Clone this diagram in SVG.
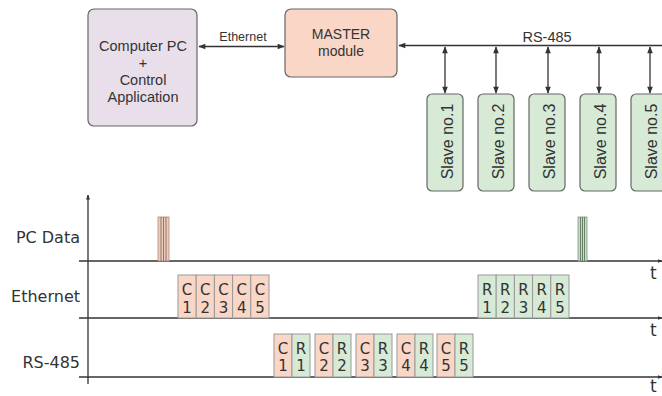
<svg xmlns="http://www.w3.org/2000/svg" width="662" height="396" viewBox="0 0 662 396">
<defs>
<marker id="ah" viewBox="0 0 10 10" refX="9" refY="5" markerWidth="8" markerHeight="7" orient="auto-start-reverse" markerUnits="userSpaceOnUse"><path d="M0,1 L10,5 L0,9 Z" fill="#333"/></marker>
<marker id="ta" viewBox="0 0 10 10" refX="9" refY="5" markerWidth="5" markerHeight="5" orient="auto" markerUnits="userSpaceOnUse"><path d="M0,1 L10,5 L0,9 Z" fill="#333"/></marker>
</defs>
<style>
.box{stroke:#666;stroke-width:1.2}
.pc{fill:#e8dfeb}
.ms{fill:#f9d6c6}
.sl{fill:#d6ead6}
.tl{font-family:"Liberation Sans",Arial,sans-serif;fill:#333;text-anchor:middle}
.sv{font-family:"Liberation Sans",Arial,sans-serif;fill:#333;text-anchor:middle;font-size:16px}
.ax{stroke:#333;stroke-width:1.3;fill:none}
.ln{stroke:#333;stroke-width:1.3;fill:none}
.lab{font-family:"DejaVu Sans",Verdana,sans-serif;font-size:16px;fill:#333;text-anchor:end}
.c{fill:#f9d6c6;stroke:#999;stroke-width:1}
.r{fill:#d6ead6;stroke:#999;stroke-width:1}
.bt{font-family:"DejaVu Sans",Verdana,sans-serif;font-size:15px;fill:#333;text-anchor:middle}
.t{font-family:"DejaVu Sans",Verdana,sans-serif;font-size:17px;fill:#333}
</style>
<g id="connectors">
<line class="ln" x1="199" y1="46.5" x2="284" y2="46.5" marker-start="url(#ah)" marker-end="url(#ah)"/>
<text class="tl" x="243" y="41" font-size="12.5">Ethernet</text>
<line class="ln" x1="399" y1="45.5" x2="662" y2="45.5" marker-start="url(#ah)"/>
<text class="tl" x="547" y="41.5" font-size="14.5">RS-485</text>
<line class="ln" x1="445" y1="47" x2="445" y2="93" marker-start="url(#ah)" marker-end="url(#ah)"/>
<line class="ln" x1="496" y1="47" x2="496" y2="93" marker-start="url(#ah)" marker-end="url(#ah)"/>
<line class="ln" x1="548" y1="47" x2="548" y2="93" marker-start="url(#ah)" marker-end="url(#ah)"/>
<line class="ln" x1="599" y1="47" x2="599" y2="93" marker-start="url(#ah)" marker-end="url(#ah)"/>
<line class="ln" x1="650" y1="47" x2="650" y2="93" marker-start="url(#ah)" marker-end="url(#ah)"/>
</g>
<g id="pc">
<rect class="box pc" x="88" y="9" width="109" height="117" rx="6"/>
<text class="tl" font-size="14.5"><tspan x="143" y="51">Computer PC</tspan><tspan x="143" y="68">+</tspan><tspan x="143" y="85">Control</tspan><tspan x="143" y="102">Application</tspan></text>
</g>
<g id="master">
<rect class="box ms" x="285" y="9" width="112" height="68" rx="6"/>
<text class="tl" font-size="14"><tspan x="341" y="39">MASTER</tspan><tspan x="341" y="56">module</tspan></text>
</g>
<g id="slave1"><rect class="box sl" x="427" y="94" width="36" height="97" rx="5"/><text class="sv" transform="translate(452.5,141.5) rotate(-90)">Slave no.1</text></g>
<g id="slave2"><rect class="box sl" x="478" y="94" width="36" height="97" rx="5"/><text class="sv" transform="translate(503.5,141.5) rotate(-90)">Slave no.2</text></g>
<g id="slave3"><rect class="box sl" x="529" y="94" width="36" height="97" rx="5"/><text class="sv" transform="translate(554.5,141.5) rotate(-90)">Slave no.3</text></g>
<g id="slave4"><rect class="box sl" x="580" y="94" width="36" height="97" rx="5"/><text class="sv" transform="translate(605.5,141.5) rotate(-90)">Slave no.4</text></g>
<g id="slave5"><rect class="box sl" x="631" y="94" width="36" height="97" rx="5"/><text class="sv" transform="translate(656.5,141.5) rotate(-90)">Slave no.5</text></g>
<g id="timing">
<line class="ax" x1="88" y1="384" x2="88" y2="195" marker-end="url(#ta)"/>
<line class="ax" x1="79" y1="261" x2="662" y2="261" marker-end="url(#ta)"/>
<line class="ax" x1="79" y1="318" x2="662" y2="318" marker-end="url(#ta)"/>
<line class="ax" x1="79" y1="377" x2="662" y2="377" marker-end="url(#ta)"/>
<text class="t" x="650" y="279">t</text>
<text class="t" x="650" y="336">t</text>
<text class="t" x="650" y="392">t</text>
<text class="lab" x="80" y="243">PC Data</text>
<text class="lab" x="80" y="302">Ethernet</text>
<text class="lab" x="80" y="368">RS-485</text>
<g id="pulse1">
<rect x="158" y="217" width="11" height="44" fill="#ecccbd" stroke="#b08878" stroke-width="0.8"/>
<line x1="161" y1="217" x2="161" y2="261" stroke="#8a6a5a" stroke-width="0.9"/>
<line x1="163.5" y1="217" x2="163.5" y2="261" stroke="#8a6a5a" stroke-width="0.9"/>
<line x1="166" y1="217" x2="166" y2="261" stroke="#8a6a5a" stroke-width="0.9"/>
</g>
<g id="pulse2">
<rect x="578" y="217" width="9" height="44" fill="#c9dcc9" stroke="#7d957d" stroke-width="0.8"/>
<line x1="580.5" y1="217" x2="580.5" y2="261" stroke="#5e745e" stroke-width="0.9"/>
<line x1="582.5" y1="217" x2="582.5" y2="261" stroke="#5e745e" stroke-width="0.9"/>
<line x1="584.5" y1="217" x2="584.5" y2="261" stroke="#5e745e" stroke-width="0.9"/>
</g>
<g id="eth-c">
<rect class="c" x="178" y="275" width="18.2" height="43"/><text class="bt"><tspan x="187.1" y="295">C</tspan><tspan x="187.1" y="312.5">1</tspan></text>
<rect class="c" x="196.2" y="275" width="18.2" height="43"/><text class="bt"><tspan x="205.3" y="295">C</tspan><tspan x="205.3" y="312.5">2</tspan></text>
<rect class="c" x="214.4" y="275" width="18.2" height="43"/><text class="bt"><tspan x="223.5" y="295">C</tspan><tspan x="223.5" y="312.5">3</tspan></text>
<rect class="c" x="232.6" y="275" width="18.2" height="43"/><text class="bt"><tspan x="241.7" y="295">C</tspan><tspan x="241.7" y="312.5">4</tspan></text>
<rect class="c" x="250.8" y="275" width="18.2" height="43"/><text class="bt"><tspan x="259.9" y="295">C</tspan><tspan x="259.9" y="312.5">5</tspan></text>
</g>
<g id="eth-r">
<rect class="r" x="478" y="275" width="18.2" height="43"/><text class="bt"><tspan x="487.1" y="295">R</tspan><tspan x="487.1" y="312.5">1</tspan></text>
<rect class="r" x="496.2" y="275" width="18.2" height="43"/><text class="bt"><tspan x="505.3" y="295">R</tspan><tspan x="505.3" y="312.5">2</tspan></text>
<rect class="r" x="514.4" y="275" width="18.2" height="43"/><text class="bt"><tspan x="523.5" y="295">R</tspan><tspan x="523.5" y="312.5">3</tspan></text>
<rect class="r" x="532.6" y="275" width="18.2" height="43"/><text class="bt"><tspan x="541.7" y="295">R</tspan><tspan x="541.7" y="312.5">4</tspan></text>
<rect class="r" x="550.8" y="275" width="18.2" height="43"/><text class="bt"><tspan x="559.9" y="295">R</tspan><tspan x="559.9" y="312.5">5</tspan></text>
</g>
<g id="rs485-frames">
<rect class="c" x="274" y="334" width="18" height="43"/><text class="bt"><tspan x="283" y="353.5">C</tspan><tspan x="283" y="371">1</tspan></text>
<rect class="r" x="292" y="334" width="18" height="43"/><text class="bt"><tspan x="301" y="353.5">R</tspan><tspan x="301" y="371">1</tspan></text>
<rect class="c" x="315" y="334" width="18" height="43"/><text class="bt"><tspan x="324" y="353.5">C</tspan><tspan x="324" y="371">2</tspan></text>
<rect class="r" x="333" y="334" width="18" height="43"/><text class="bt"><tspan x="342" y="353.5">R</tspan><tspan x="342" y="371">2</tspan></text>
<rect class="c" x="356" y="334" width="18" height="43"/><text class="bt"><tspan x="365" y="353.5">C</tspan><tspan x="365" y="371">3</tspan></text>
<rect class="r" x="374" y="334" width="18" height="43"/><text class="bt"><tspan x="383" y="353.5">R</tspan><tspan x="383" y="371">3</tspan></text>
<rect class="c" x="397" y="334" width="18" height="43"/><text class="bt"><tspan x="406" y="353.5">C</tspan><tspan x="406" y="371">4</tspan></text>
<rect class="r" x="415" y="334" width="18" height="43"/><text class="bt"><tspan x="424" y="353.5">R</tspan><tspan x="424" y="371">4</tspan></text>
<rect class="c" x="437" y="334" width="18" height="43"/><text class="bt"><tspan x="446" y="353.5">C</tspan><tspan x="446" y="371">5</tspan></text>
<rect class="r" x="455" y="334" width="18" height="43"/><text class="bt"><tspan x="464" y="353.5">R</tspan><tspan x="464" y="371">5</tspan></text>
</g>
</g>
</svg>
